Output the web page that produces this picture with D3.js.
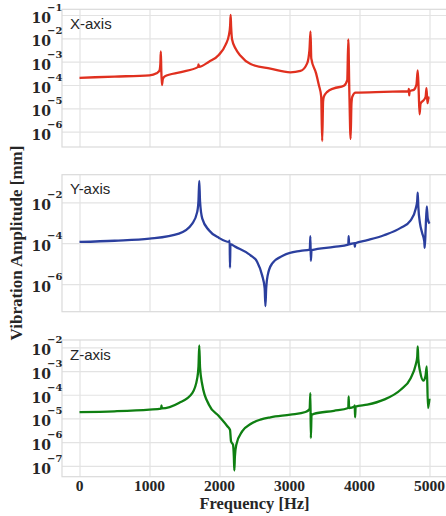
<!DOCTYPE html>
<html>
<head>
<meta charset="utf-8">
<script src="https://cdn.jsdelivr.net/npm/d3@7"></script>
<style>
  html, body { margin: 0; padding: 0; background: #fff; }
  svg { display: block; }
</style>
</head>
<body>
<svg id="chart" width="446" height="516"></svg>
<script>
"use strict";

// === Data ===
const freqTicks = [0, 1000, 2000, 3000, 4000, 5000];
const xAmpTicks = [1e-1, 1e-2, 1e-3, 1e-4, 1e-5, 1e-6];
const yAmpTicks = [1e-2, 1e-4, 1e-6];
const zAmpTicks = [1e-2, 1e-3, 1e-4, 1e-5, 1e-6, 1e-7];

const xFreq = [0, 500, 1000, 1100, 1140, 1155, 1162, 1168, 1177, 1190, 1215, 1450, 1695, 1700, 1706,
  1850, 1993, 2088, 2136, 2152, 2159, 2166, 2180, 2231, 2300, 2444, 2727, 3013, 3157, 3252, 3285,
  3300, 3311, 3380, 3419, 3453, 3467, 3480, 3491, 3539, 3634, 3777, 3825, 3840, 3855, 3873, 3885,
  3897, 3944, 4349, 4700, 4705, 4710, 4716, 4779, 4813, 4832, 4845, 4858, 4872, 4922, 4945, 4957,
  4971, 4985, 5000];
const xAmp = [2.04e-4, 2.3e-4, 2.6e-4, 3.2e-4, 4.0e-4, 7.9e-4, 2.75e-3, 5.0e-4, 1.0e-4, 1.78e-4, 2.34e-4,
  3.55e-4, 6.0e-4, 7.6e-4, 6.0e-4, 1.0e-3, 2.0e-3, 5.4e-3, 1.45e-2, 3.55e-2, 1.0e-1, 3.16e-2, 8.9e-3,
  3.55e-3, 1.78e-3, 7.9e-4, 5.0e-4, 3.5e-4, 4.0e-4, 8.5e-4, 3.16e-3, 2.0e-2, 1.38e-3, 3.16e-4, 1.0e-4,
  3.16e-5, 4.0e-7, 2.0e-5, 3.16e-5, 5.1e-5, 7.2e-5, 9.3e-5, 1.62e-4, 9.1e-3, 5.0e-5, 4.9e-7, 1.58e-5,
  3.16e-5, 4.7e-5, 5.1e-5, 5.4e-5, 6.8e-5, 3.6e-5, 5.4e-5, 6.3e-5, 1.02e-4, 4.2e-4, 6.3e-5, 5.6e-6,
  1.58e-5, 2.34e-5, 3.16e-5, 7.4e-5, 1.66e-5, 2.8e-5, 2.95e-5];

const yFreq = [0, 500, 1000, 1420, 1611, 1682, 1700, 1711, 1722, 1754, 1849, 1993, 2136, 2145, 2150,
  2156, 2230, 2444, 2537, 2608, 2645, 2656, 2667, 2689, 2751, 2918, 3157, 3290, 3298, 3305, 3315,
  3634, 3840, 3845, 3852, 3928, 3934, 3940, 4112, 4349, 4588, 4731, 4803, 4825, 4832, 4840, 4865,
  4895, 4925, 4932, 4945, 4961, 4975, 5000];
const yAmp = [1.15e-4, 1.32e-4, 1.66e-4, 2.95e-4, 9.1e-4, 3.4e-3, 1.26e-2, 1.12e-1, 1.12e-2, 1.58e-3,
  4.3e-4, 1.82e-4, 1.15e-4, 1.32e-4, 6.3e-6, 8.9e-5, 6.6e-5, 2.57e-5, 1.23e-5, 2.75e-6, 6.3e-7, 8.5e-8,
  6.3e-7, 2.75e-6, 1.0e-5, 2.57e-5, 4.2e-5, 4.9e-5, 2.2e-4, 1.38e-5, 4.6e-5, 6.6e-5, 8.5e-5, 2.2e-4,
  8.9e-5, 1.0e-4, 6.6e-5, 1.0e-4, 1.41e-4, 2.45e-4, 5.6e-4, 1.32e-3, 4.9e-3, 1.26e-2, 3.0e-2, 6.3e-3,
  9.1e-4, 3.16e-4, 1.26e-4, 5.9e-5, 5.0e-4, 6.3e-3, 1.58e-3, 9.1e-4];

const zFreq = [0, 500, 1000, 1165, 1171, 1177, 1420, 1611, 1682, 1700, 1711, 1722, 1754, 1849, 1993,
  2112, 2150, 2165, 2193, 2205, 2212, 2220, 2240, 2326, 2444, 2584, 2727, 3013, 3228, 3288, 3298,
  3305, 3315, 3347, 3634, 3840, 3845, 3852, 3928, 3932, 3937, 3945, 4112, 4349, 4588, 4731, 4803,
  4825, 4832, 4840, 4865, 4913, 4942, 4961, 4979, 5000];
const zAmp = [1.86e-5, 2.0e-5, 2.34e-5, 2.57e-5, 3.55e-5, 2.63e-5, 4.5e-5, 1.17e-4, 5.0e-4, 1.58e-3,
  1.2e-2, 1.41e-3, 2.63e-4, 3.8e-5, 1.23e-5, 4.7e-6, 3.3e-6, 1.07e-6, 7.8e-7, 2.5e-7, 6.3e-8, 2.5e-7,
  7.8e-7, 2.9e-6, 5.8e-6, 8.9e-6, 1.12e-5, 1.45e-5, 1.86e-5, 2.5e-5, 1.17e-4, 1.48e-6, 1.41e-5,
  1.55e-5, 2.1e-5, 2.75e-5, 8.5e-5, 2.75e-5, 3.16e-5, 3.55e-5, 1.12e-5, 3.16e-5, 3.8e-5, 6.2e-5,
  1.62e-4, 5.0e-4, 1.86e-3, 4.0e-3, 1.1e-2, 3.16e-3, 9.8e-4, 3.9e-4, 6.0e-4, 1.58e-3, 2.75e-5, 6.8e-5];

// === Layout ===
const svg = d3.select("#chart");
const left = 62, right = 447;
const gridColor = "#e3e3e3";
const textColor = "#262626";

const x = d3.scaleLinear().domain([-250, 5250]).range([left, right]);

const panels = [
  { name: "X-axis", freq: xFreq, amp: xAmp, color: "#e0301f", top: 9.3, bottom: 147,
    domain: [Math.pow(10, -6.656), Math.pow(10, -0.755)], ticks: xAmpTicks },
  { name: "Y-axis", freq: yFreq, amp: yAmp, color: "#2b3f9e", top: 174.7, bottom: 311.7,
    domain: [Math.pow(10, -7.35), Math.pow(10, -0.65)], ticks: yAmpTicks },
  { name: "Z-axis", freq: zFreq, amp: zAmp, color: "#0f7f12", top: 340, bottom: 476.7,
    domain: [Math.pow(10, -7.46), Math.pow(10, -1.69)], ticks: zAmpTicks }
];

function drawPanel(p, i) {
  const y = d3.scaleLog().domain(p.domain).range([p.bottom, p.top]);
  const g = svg.append("g");
  const h = p.bottom - p.top;

  // grid lines from the axes
  g.append("g").attr("transform", `translate(0,${p.bottom})`)
    .call(d3.axisBottom(x).tickValues(freqTicks).tickSize(-h).tickFormat(""))
    .call(a => a.select(".domain").remove())
    .call(a => a.selectAll("line").attr("stroke", gridColor).attr("stroke-width", 1.2));
  g.append("g").attr("transform", `translate(${left},0)`)
    .call(d3.axisLeft(y).tickValues(p.ticks).tickSize(-(right - left)).tickFormat(""))
    .call(a => a.select(".domain").remove())
    .call(a => a.selectAll("line").attr("stroke", gridColor).attr("stroke-width", 1.2));

  // frame
  g.append("rect")
    .attr("x", left).attr("y", p.top)
    .attr("width", right - left + 2).attr("height", h)
    .attr("fill", "none").attr("stroke", "#dadada").attr("stroke-width", 1.2);

  // curve
  const clipId = "clip" + i;
  svg.append("clipPath").attr("id", clipId)
    .append("rect").attr("x", left).attr("y", p.top).attr("width", right - left).attr("height", h);
  const pts = p.freq.map((f, k) => [f, p.amp[k]]);
  const line = d3.line().x(d => x(d[0])).y(d => y(d[1])).curve(d3.curveMonotoneX);
  g.append("path").datum(pts)
    .attr("clip-path", `url(#${clipId})`)
    .attr("d", line)
    .attr("fill", "none")
    .attr("stroke", p.color)
    .attr("stroke-width", 2.3)
    .attr("stroke-linejoin", "round");

  // y tick labels: 10 with superscript exponent
  p.ticks.forEach(t => {
    const ty = y(t);
    const e = Math.round(Math.log10(t));
    g.append("text")
      .attr("x", 51).attr("y", ty + 8)
      .attr("text-anchor", "end")
      .attr("font-family", "'DejaVu Serif', serif")
      .attr("font-weight", "bold").attr("font-size", 14)
      .attr("fill", textColor)
      .text("10");
    g.append("text")
      .attr("x", 47).attr("y", ty - 4)
      .attr("font-family", "'DejaVu Serif', serif")
      .attr("font-weight", "bold").attr("font-size", 10)
      .attr("fill", textColor)
      .text("\u2212" + Math.abs(e));
  });

  // panel title
  g.append("text")
    .attr("x", 70).attr("y", p.top + 19.5)
    .attr("font-family", "'Liberation Sans', Arial, sans-serif")
    .attr("font-size", 15)
    .attr("fill", textColor)
    .text(p.name);

  return y;
}

panels.forEach(drawPanel);

// x tick labels (bottom panel only)
freqTicks.forEach(f => {
  svg.append("text")
    .attr("x", x(f)).attr("y", 491)
    .attr("text-anchor", "middle")
    .attr("font-family", "'Liberation Serif', 'Times New Roman', serif")
    .attr("font-weight", "bold").attr("font-size", 15.5)
    .attr("fill", textColor)
    .text(f);
});

// axis titles
svg.append("text")
  .attr("x", 254.5).attr("y", 508.5)
  .attr("text-anchor", "middle")
  .attr("font-family", "'Liberation Serif', 'Times New Roman', serif")
  .attr("font-weight", "bold").attr("font-size", 16.5)
  .attr("fill", textColor)
  .text("Frequency [Hz]");

svg.append("text")
  .attr("transform", "translate(22,243) rotate(-90)")
  .attr("text-anchor", "middle")
  .attr("font-family", "'Liberation Serif', 'Times New Roman', serif")
  .attr("font-weight", "bold").attr("font-size", 17)
  .attr("fill", textColor)
  .text("Vibration Amplitude [mm]");
</script>
</body>
</html>
